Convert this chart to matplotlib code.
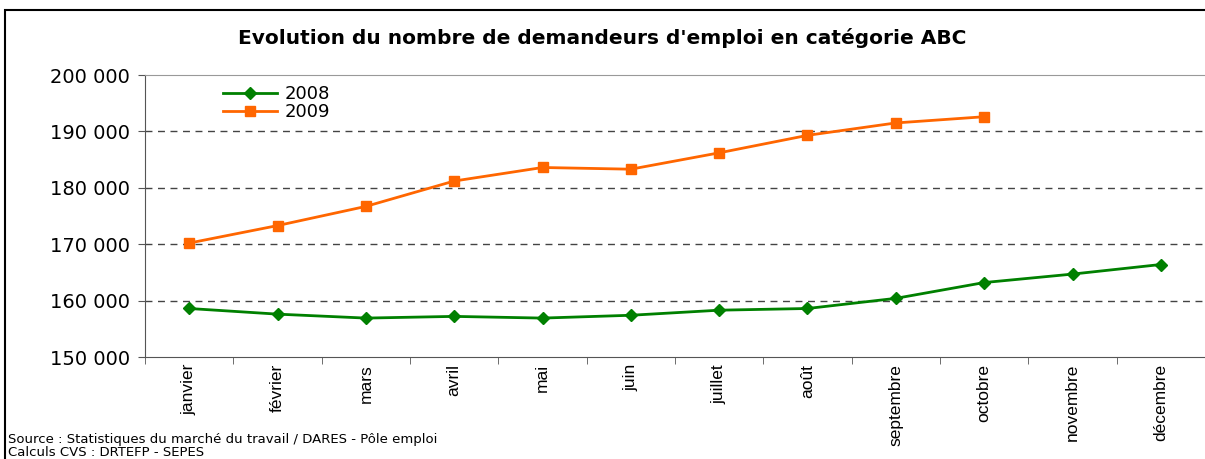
import matplotlib
matplotlib.use('Agg')
import matplotlib.pyplot as plt
from matplotlib.patches import Rectangle
from matplotlib.ticker import FuncFormatter, FixedLocator

plt.rcParams['font.family'] = ['DejaVu Sans']

mois = ['janvier', 'février', 'mars', 'avril', 'mai', 'juin', 'juillet',
        'août', 'septembre', 'octobre', 'novembre', 'décembre']
v2008 = [158600, 157600, 156900, 157200, 156900, 157400, 158300,
         158600, 160400, 163200, 164700, 166400]
v2009 = [170200, 173300, 176700, 181200, 183600, 183300, 186200,
         189300, 191500, 192600]

fig = plt.figure(figsize=(12.05, 4.59), dpi=100)
# cadre exterieur
fig.patches.append(Rectangle((5 / 1205, -0.05), 1.1, 1 - 10 / 459 + 0.05,
                             transform=fig.transFigure, fill=False,
                             edgecolor='black', linewidth=1.5))

ax = fig.add_axes([145 / 1205, 1 - 357 / 459, 1060 / 1205, 282 / 459])

x8 = list(range(len(v2008)))
x9 = list(range(len(v2009)))
ax.plot(x8, v2008, color='#008000', marker='D', markersize=6, linewidth=2,
        label='2008', zorder=3)
ax.plot(x9, v2009, color='#FF6600', marker='s', markersize=7, linewidth=2,
        label='2009', zorder=3)

ax.set_xlim(-0.5, 11.5)
ax.set_ylim(150000, 200000)
ax.set_yticks([150000, 160000, 170000, 180000, 190000, 200000])
ax.yaxis.set_major_formatter(FuncFormatter(lambda v, p: '{:,}'.format(int(v)).replace(',', ' ')))
ax.tick_params(axis='y', labelsize=14, length=5, color='#555555', pad=6)

ax.set_xticks(x8)
ax.set_xticklabels(mois, rotation=90, fontsize=12.5, va='top', family='Liberation Sans')
ax.xaxis.set_minor_locator(FixedLocator([i - 0.5 for i in range(13)]))
ax.tick_params(axis='x', which='major', length=0, pad=5)
ax.tick_params(axis='x', which='minor', length=5, color='#555555')

for yv in [160000, 170000, 180000, 190000]:
    ax.axhline(yv, color='#444444', linestyle=(0, (5, 4)), linewidth=1, zorder=1)

ax.spines['top'].set_color('#999999')
ax.spines['right'].set_visible(False)
ax.spines['left'].set_color('#555555')
ax.spines['bottom'].set_color('#555555')

ax.legend(loc='upper left', bbox_to_anchor=(0.06, 1.015), frameon=False,
          fontsize=13, handlelength=3, handletextpad=0.4, labelspacing=0.0,
          borderpad=0.3)

fig.text(0.5, 1 - 38 / 459, "Evolution du nombre de demandeurs d'emploi en catégorie ABC",
         ha='center', va='center', fontsize=14.5, fontweight='bold')
fig.text(8 / 1205, 1 - 440 / 459, 'Source : Statistiques du marché du travail / DARES - Pôle emploi',
         ha='left', va='center', fontsize=9.5)
fig.text(8 / 1205, 1 - 452 / 459, 'Calculs CVS : DRTEFP - SEPES',
         ha='left', va='center', fontsize=9.5)

fig.savefig('out.png', dpi=100)
